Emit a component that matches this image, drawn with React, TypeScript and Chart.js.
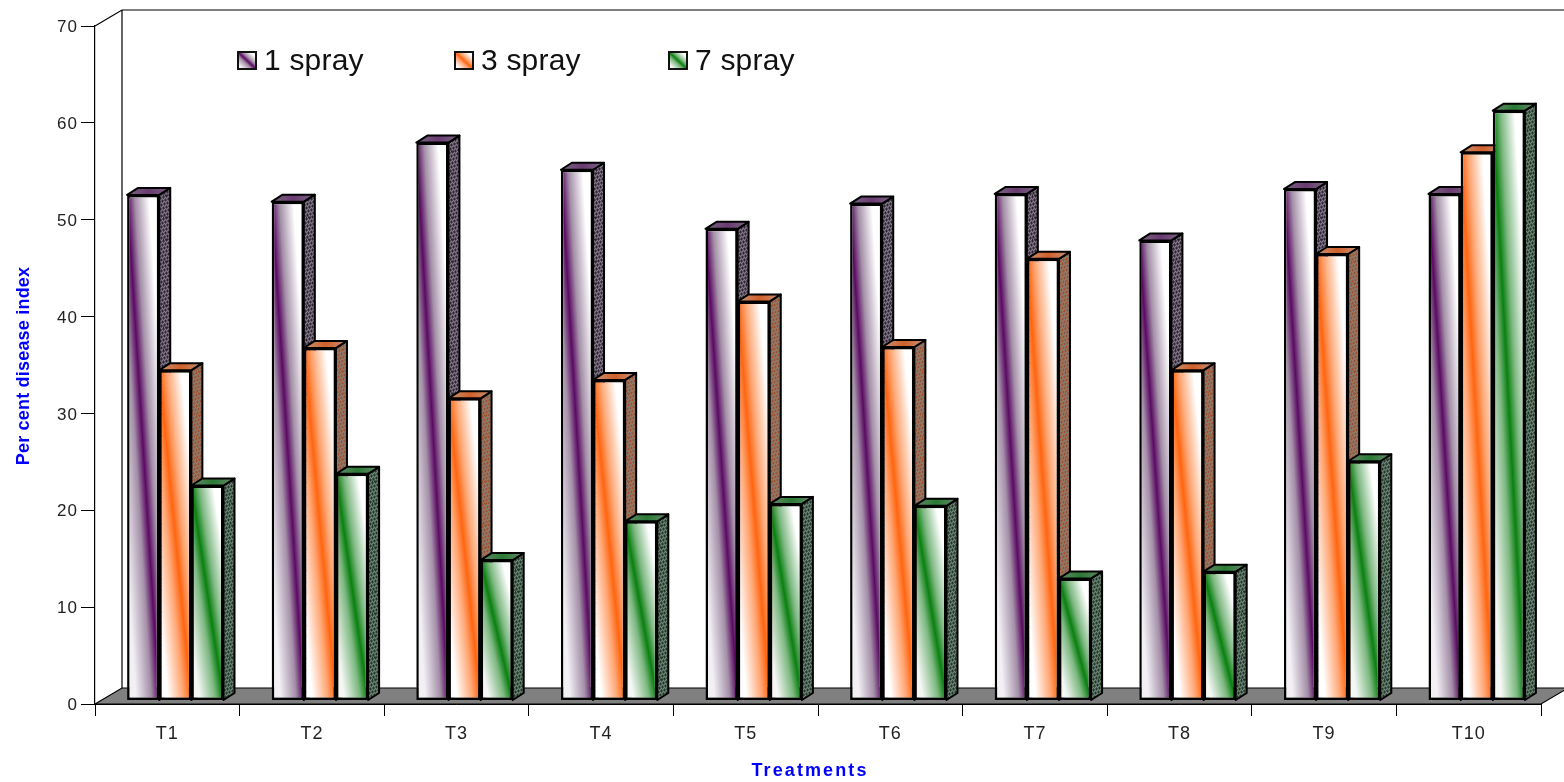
import { useEffect, useRef } from "react";
import { Chart, registerables } from "chart.js";

Chart.register(...registerables);

const treatments = ["T1", "T2", "T3", "T4", "T5", "T6", "T7", "T8", "T9", "T10"];
const spray1 = [52.2, 51.5, 57.6, 54.8, 48.7, 51.3, 52.3, 47.5, 52.8, 52.3];
const spray3 = [34.1, 36.4, 31.2, 33.1, 41.2, 36.5, 45.6, 34.1, 46.1, 56.6];
const spray7 = [22.2, 23.4, 14.5, 18.5, 20.3, 20.1, 12.6, 13.3, 24.7, 60.9];
const seriesNames = ["1 spray", "3 spray", "7 spray"];
const yAxisTitle = "Per cent disease index";
const xAxisTitle = "Treatments";

const FONT = '"Liberation Sans", Arial, sans-serif';
const WALL_DX = 27;
const WALL_DY = -16;
const BAR_DX = 8;
const BAR_DY = -3.5;
const SIDE_DX = 11;
const SIDE_DY = -7;

const palette = [
  { main: "#5a0a62", soft: "#a48fa8", edge: "#f2f0f5", top: "#7a6a80", topMid: "#6a3a72", speckA: "#2e2433", speckB: "#857a8a" },
  { main: "#ff6510", soft: "#ffa673", edge: "#ffffff", top: "#c9957a", topMid: "#d0602a", speckA: "#a0522d", speckB: "#8a8078" },
  { main: "#0a8010", soft: "#7db881", edge: "#f4f7f4", top: "#6a8a70", topMid: "#2a7a34", speckA: "#1f3a26", speckB: "#72857a" },
];

// Small deterministic mottled tile used on the bars' side faces.
function mottledTile(a: string, b: string) {
  const tile = document.createElement("canvas");
  tile.width = 22;
  tile.height = 22;
  const g = tile.getContext("2d")!;
  g.fillStyle = a;
  g.fillRect(0, 0, 22, 22);
  g.fillStyle = b;
  for (let y = 0; y < 22; y++) {
    for (let x = 0; x < 22; x++) {
      if ((x * x * 3 + y * y * 5 + x * y * 7) % 11 < 3) g.fillRect(x, y, 1, 2);
    }
  }
  return tile;
}

// Diagonal sheen: the colour band runs from the bar's top-left to its bottom-right corner.
function diagonalSheen(
  ctx: CanvasRenderingContext2D,
  x0: number,
  y0: number,
  x1: number,
  y1: number,
  colors: { main: string; soft: string; edge: string },
) {
  const w = x1 - x0;
  const h = Math.max(y1 - y0, 1);
  const len = Math.hypot(w, h);
  const nx = h / len;
  const ny = -w / len;
  const reach = (w * h) / len;
  const cx = (x0 + x1) / 2;
  const cy = (y0 + y1) / 2;
  const grad = ctx.createLinearGradient(cx - nx * reach, cy - ny * reach, cx + nx * reach, cy + ny * reach);
  grad.addColorStop(0, colors.edge);
  grad.addColorStop(0.14, colors.edge);
  grad.addColorStop(0.38, colors.soft);
  grad.addColorStop(0.5, colors.main);
  grad.addColorStop(0.62, colors.soft);
  grad.addColorStop(0.84, "#ffffff");
  grad.addColorStop(1, "#ffffff");
  return grad;
}

// Side and top faces of one series, behind its front faces.
function drawExtrusion(ctx: CanvasRenderingContext2D, meta: any, index: number) {
  const colors = palette[index];
  const pattern = ctx.createPattern(mottledTile(colors.speckA, colors.speckB), "repeat")!;
  ctx.lineJoin = "round";
  ctx.lineWidth = 2;
  ctx.strokeStyle = "#000";
  meta.data.forEach((bar: any) => {
    const left = bar.x - bar.width / 2;
    const right = bar.x + bar.width / 2;
    ctx.fillStyle = pattern;
    ctx.beginPath();
    ctx.moveTo(right, bar.y);
    ctx.lineTo(right + SIDE_DX, bar.y + SIDE_DY);
    ctx.lineTo(right + SIDE_DX, bar.base + SIDE_DY);
    ctx.lineTo(right, bar.base);
    ctx.closePath();
    ctx.fill();
    ctx.stroke();
    const topY = bar.y + SIDE_DY;
    const topGrad = ctx.createLinearGradient(left, topY, right + SIDE_DX, bar.y);
    topGrad.addColorStop(0, colors.top);
    topGrad.addColorStop(0.5, colors.topMid);
    topGrad.addColorStop(1, colors.top);
    ctx.fillStyle = topGrad;
    ctx.beginPath();
    ctx.moveTo(left, bar.y);
    ctx.lineTo(left + SIDE_DX, topY);
    ctx.lineTo(right + SIDE_DX, topY);
    ctx.lineTo(right, bar.y);
    ctx.closePath();
    ctx.fill();
    ctx.stroke();
  });
}

const sprayScene = {
  id: "sprayScene",
  beforeDraw(chart: any) {
    chart.ctx.letterSpacing = "1px";
  },
  beforeDatasetsDraw(chart: any) {
    const { ctx, chartArea: a } = chart;
    ctx.save();
    ctx.strokeStyle = "#000";
    ctx.lineWidth = 1.2;
    ctx.beginPath();
    ctx.moveTo(a.left, a.top);
    ctx.lineTo(a.left + WALL_DX, a.top + WALL_DY);
    ctx.lineTo(a.right + WALL_DX, a.top + WALL_DY);
    ctx.moveTo(a.left + WALL_DX, a.top + WALL_DY);
    ctx.lineTo(a.left + WALL_DX, a.bottom + WALL_DY);
    ctx.stroke();
    ctx.fillStyle = "#808080";
    ctx.beginPath();
    ctx.moveTo(a.left, a.bottom);
    ctx.lineTo(a.left + WALL_DX, a.bottom + WALL_DY);
    ctx.lineTo(a.right + WALL_DX, a.bottom + WALL_DY);
    ctx.lineTo(a.right, a.bottom);
    ctx.closePath();
    ctx.fill();
    ctx.stroke();
    ctx.restore();
  },
  // Series are painted left to right below, so each bar's front covers its left neighbour's side.
  beforeDatasetDraw() {
    return false;
  },
  afterDatasetsDraw(chart: any) {
    const { ctx } = chart;
    chart.data.datasets.forEach((_: any, i: number) => {
      const meta = chart.getDatasetMeta(i);
      ctx.save();
      ctx.translate(BAR_DX, BAR_DY);
      drawExtrusion(ctx, meta, i);
      ctx.restore();
      ctx.save();
      ctx.translate(BAR_DX, BAR_DY);
      meta.controller.draw();
      ctx.restore();
    });
  },
  afterDraw(chart: any) {
    const { ctx, chartArea: a } = chart;
    ctx.save();
    // Legend row inside the plot.
    const legendLeft = [238, 455, 669];
    ctx.textBaseline = "middle";
    ctx.textAlign = "left";
    seriesNames.forEach((name, i) => {
      const x = legendLeft[i];
      ctx.fillStyle = diagonalSheen(ctx, x, 52, x + 18, 69, palette[i]);
      ctx.strokeStyle = "#111";
      ctx.lineWidth = 2;
      ctx.fillRect(x, 52, 18, 17);
      ctx.strokeRect(x, 52, 18, 17);
      ctx.fillStyle = "#111";
      ctx.font = `30px ${FONT}`;
      ctx.letterSpacing = "0.2px";
      ctx.fillText(name, x + 26, 62);
    });
    // Axis titles.
    ctx.fillStyle = "#0000ff";
    ctx.textAlign = "center";
    ctx.font = `bold 18px ${FONT}`;
    ctx.letterSpacing = "2.1px";
    ctx.fillText(xAxisTitle, 810, 771);
    ctx.translate(24, (a.top + a.bottom) / 2 + 1);
    ctx.rotate(-Math.PI / 2);
    ctx.font = `bold 18px ${FONT}`;
    ctx.letterSpacing = "0.2px";
    ctx.fillText(yAxisTitle, 0, 0);
    ctx.restore();
  },
};

export default function App() {
  const ref = useRef<HTMLCanvasElement>(null);
  useEffect(() => {
    const barFill = (seriesIndex: number) => (c: any) => {
      const fallback = palette[seriesIndex].main;
      if (c.type !== "data") return fallback;
      const { x, y } = c.chart.scales;
      if (!x || !y) return fallback;
      const span = (x.width / treatments.length) * (2 / 3);
      const w = span / 3;
      const center = x.getPixelForValue(c.dataIndex) - span / 2 + w * (seriesIndex + 0.5);
      const top = y.getPixelForValue(c.raw);
      const base = y.getPixelForValue(0);
      if (![center, w, top, base].every(Number.isFinite)) return fallback;
      return diagonalSheen(c.chart.ctx, center - w / 2, top, center + w / 2, base, palette[seriesIndex]);
    };
    const values = [spray1, spray3, spray7];
    const chart = new Chart(ref.current!, {
      type: "bar",
      data: {
        labels: treatments,
        datasets: values.map((data, i) => ({
          label: seriesNames[i],
          data,
          clip: false,
          backgroundColor: barFill(i),
          borderColor: "#000",
          borderWidth: 2.5,
          borderSkipped: false,
          inflateAmount: 0,
          barPercentage: 1,
          categoryPercentage: 2 / 3,
        })),
      },
      plugins: [sprayScene],
      options: {
        responsive: false,
        animation: false,
        events: [],
        layout: { autoPadding: false, padding: { top: 26, right: 23, left: 0, bottom: 0 } },
        plugins: { legend: { display: false }, tooltip: { enabled: false } },
        scales: {
          x: {
            afterFit: (s: any) => {
              s.height = 78;
            },
            grid: { drawOnChartArea: false, drawTicks: true, tickLength: 12, color: "#000", lineWidth: 1 },
            border: { display: true, color: "#000", width: 1 },
            ticks: { color: "#222", padding: 7, maxRotation: 0, font: { family: FONT, size: 18 } },
          },
          y: {
            min: 0,
            max: 70,
            afterFit: (s: any) => {
              s.width = 95;
              // Digits sit optically on their tick marks.
              const drawLabels = s.drawLabels;
              if (!s.__nudged) {
                s.__nudged = true;
                s.drawLabels = function (area: any) {
                  s.ctx.save();
                  s.ctx.translate(0, 1.5);
                  drawLabels.call(s, area);
                  s.ctx.restore();
                };
              }
            },
            grid: { drawOnChartArea: false, drawTicks: true, tickLength: 14, color: "#000", lineWidth: 1 },
            border: { display: true, color: "#000", width: 1.2 },
            ticks: { stepSize: 10, color: "#222", padding: 3, font: { family: FONT, size: 17 } },
          },
        },
      } as any,
    });
    chart.update();
    return () => chart.destroy();
  }, []);
  return (
    <div style={{ position: "fixed", left: 0, top: 0 }}>
      <canvas ref={ref} width={1564} height={782} style={{ display: "block" }} />
    </div>
  );
}
